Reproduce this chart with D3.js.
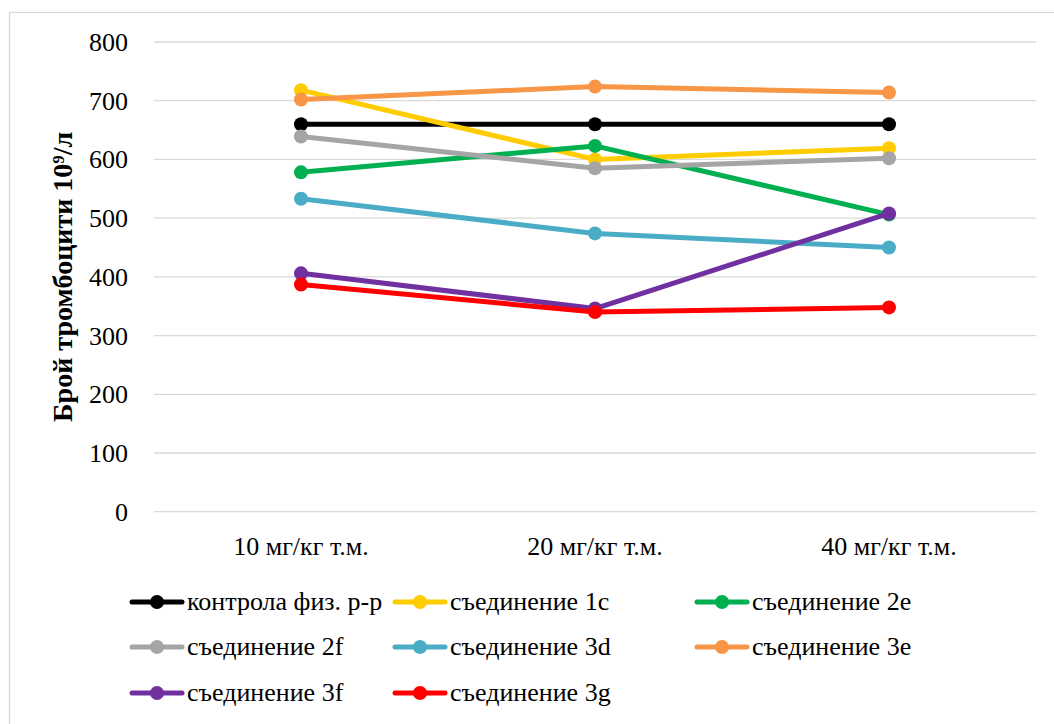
<!DOCTYPE html>
<html>
<head>
<meta charset="utf-8">
<script src="https://cdn.jsdelivr.net/npm/d3@7"></script>
</head>
<body style="margin:0">
<svg id="chart" width="1054" height="724"></svg>
<script>
// Dose groups on the x axis
const categories = ["10 мг/кг т.м.", "20 мг/кг т.м.", "40 мг/кг т.м."];

// Platelet counts (10^9/л) per series
const seriesNames = [
  "контрола физ. р-р",
  "съединение 1c",
  "съединение 2e",
  "съединение 2f",
  "съединение 3d",
  "съединение 3e",
  "съединение 3f",
  "съединение 3g"
];
const control = [660, 660, 660];
const comp1c = [718, 600, 619];
const comp2e = [578, 623, 506];
const comp2f = [639, 585, 602];
const comp3d = [533, 474, 450];
const comp3e = [702, 724, 714];
const comp3f = [406, 346, 508];
const comp3g = [387, 340, 348];
const seriesValues = [control, comp1c, comp2e, comp2f, comp3d, comp3e, comp3f, comp3g];
const seriesColors = ["#000000", "#ffcc00", "#00b050", "#a5a5a5", "#4bacc6", "#f79646", "#7030a0", "#ff0000"];

const yTicks = [0, 100, 200, 300, 400, 500, 600, 700, 800];
const yTitle = "Брой тромбоцити 10⁹/л";

const serif = "Times New Roman";

const svg = d3.select("#chart");

// Chart frame
svg.append("rect")
  .attr("x", 9.5).attr("y", 12.5)
  .attr("width", 1100).attr("height", 800)
  .attr("fill", "#fff")
  .attr("stroke", "#d9d9d9")
  .attr("stroke-width", 1.3);

const plot = { left: 154, right: 1036, top: 42, bottom: 511.7 };

const x = d3.scaleBand().domain(categories).range([plot.left, plot.right]).padding(0);
const y = d3.scaleLinear().domain([0, 800]).range([plot.bottom, plot.top]);
const cx = c => x(c) + x.bandwidth() / 2;

// Horizontal gridlines
svg.append("g")
  .selectAll("line")
  .data(yTicks)
  .join("line")
  .attr("x1", plot.left).attr("x2", plot.right)
  .attr("y1", d => y(d)).attr("y2", d => y(d))
  .attr("stroke", "#d9d9d9")
  .attr("stroke-width", 1.3);

// Y axis tick labels from the y scale
svg.selectAll("text.ytick")
  .data(yTicks)
  .join("text")
  .attr("class", "ytick")
  .attr("x", plot.left - 26)
  .attr("y", d => y(d) + 9)
  .attr("text-anchor", "end")
  .style("font-family", () => serif)
  .style("font-size", "26px")
  .text(d => d);

// X axis category labels
svg.selectAll("text.xtick")
  .data(categories)
  .join("text")
  .attr("class", "xtick")
  .attr("x", d => cx(d))
  .attr("y", plot.bottom + 43)
  .attr("text-anchor", "middle")
  .style("font-family", () => serif)
  .style("font-size", "26px")
  .text(d => d);

// Y axis title
svg.selectAll("text.ytitle")
  .data([yTitle])
  .join("text")
  .attr("class", "ytitle")
  .attr("transform", `translate(72,${(plot.top + plot.bottom) / 2}) rotate(-90)`)
  .attr("text-anchor", "middle")
  .style("font-family", () => serif)
  .style("font-size", "28px")
  .style("font-weight", "bold")
  .text(d => d);

// Series lines and markers
const line = d3.line().x((d, i) => cx(categories[i])).y(d => y(d));
seriesValues.forEach((vals, si) => {
  const g = svg.append("g");
  g.append("path")
    .datum(vals)
    .attr("d", line)
    .attr("fill", "none")
    .attr("stroke", seriesColors[si])
    .attr("stroke-width", 5)
    .attr("stroke-linejoin", "round")
    .attr("stroke-linecap", "round");
  g.selectAll("circle")
    .data(vals)
    .join("circle")
    .attr("cx", (d, i) => cx(categories[i]))
    .attr("cy", d => y(d))
    .attr("r", 7)
    .attr("fill", seriesColors[si]);
});

// Legend: three columns, filled row by row
const legendCols = [132, 395, 697];
const legendRows = [602, 647, 693];
const legendX = i => legendCols[i % 3];
const legendY = i => legendRows[Math.floor(i / 3)];

svg.selectAll("line.legline")
  .data(seriesNames)
  .join("line")
  .attr("class", "legline")
  .attr("x1", (d, i) => legendX(i)).attr("x2", (d, i) => legendX(i) + 50)
  .attr("y1", (d, i) => legendY(i)).attr("y2", (d, i) => legendY(i))
  .attr("stroke", (d, i) => seriesColors[i])
  .attr("stroke-width", 5)
  .attr("stroke-linecap", "round");

svg.selectAll("circle.legdot")
  .data(seriesNames)
  .join("circle")
  .attr("class", "legdot")
  .attr("cx", (d, i) => legendX(i) + 25)
  .attr("cy", (d, i) => legendY(i))
  .attr("r", 7)
  .attr("fill", (d, i) => seriesColors[i]);

svg.selectAll("text.legtext")
  .data(seriesNames)
  .join("text")
  .attr("class", "legtext")
  .attr("x", (d, i) => legendX(i) + 55)
  .attr("y", (d, i) => legendY(i) + 8)
  .style("font-family", () => serif)
  .style("font-size", "26px")
  .text(d => d);
</script>
</body>
</html>
